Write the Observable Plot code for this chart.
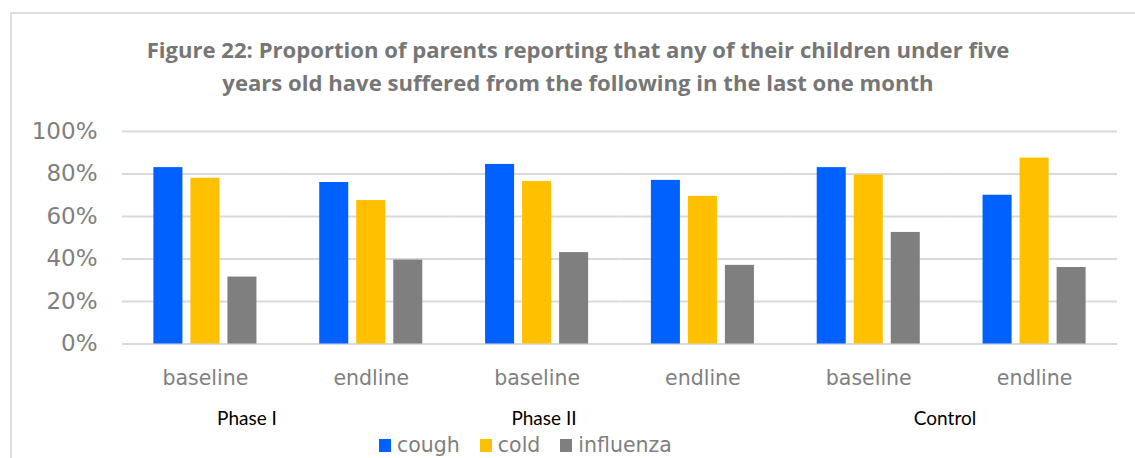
<!DOCTYPE html>
<html>
<head>
<meta charset="utf-8">
<script src="https://cdn.jsdelivr.net/npm/d3@7"></script>
<script src="https://cdn.jsdelivr.net/npm/@observablehq/plot@0.6"></script>
<style>
  html, body { margin: 0; padding: 0; background: #fff; }
  #wrap { position: relative; width: 1135px; height: 458px; overflow: hidden; background: #fff; }
  #frame { position: absolute; left: 10px; top: 12px; width: 1300px; height: 600px;
           border-top: 2px solid #dedede; border-left: 2px solid #dedede; }
  #title { position: absolute; left: 0; width: 1156px; top: 33px; text-align: center;
           font-family: "Open Sans", Lato, sans-serif; font-weight: 700; font-size: 22.1px;
           line-height: 33px; color: #767676; }
  #chart { position: absolute; left: 0; top: 118px; }
  .phase { position: absolute; top: 406px; font-family: Lato, "Open Sans", sans-serif;
           font-size: 19px; color: #000; transform: translateX(-50%); white-space: nowrap; }
  #legend { position: absolute; left: 379px; top: 432px; display: flex; align-items: center;
            font-family: "DejaVu Sans", sans-serif; font-size: 20.5px; color: #7f7f7f; line-height: 26px; }
  .item { display: flex; align-items: center; margin-right: 20px; }
  .sw { width: 12px; height: 13px; margin-right: 6px; }
  #chart g[aria-label^="y-axis"] text { font-size: 23px; }
  #chart g[aria-label^="fx-axis"] text { font-size: 20.5px; }
</style>
</head>
<body>
<div id="wrap">
  <div id="frame"></div>
  <div id="title"></div>
  <div id="chart"></div>
  <div id="phases"></div>
  <div id="legend"></div>
</div>
<script>
// ---- data ----
const titleLines = [
  "Figure 22: Proportion of parents reporting that any of their children under five",
  "years old have suffered from the following in the last one month"
];
const rounds = ["baseline", "endline", "baseline", "endline", "baseline", "endline"];
const phases = ["Phase I", "Phase I", "Phase II", "Phase II", "Control", "Control"];
const phaseNames = ["Phase I", "Phase II", "Control"];
const phaseLabelX = [247, 544, 945];
const series = ["cough", "cold", "influenza"];
const cough     = [0.83, 0.76, 0.845, 0.77, 0.83, 0.70];
const cold      = [0.78, 0.675, 0.765, 0.695, 0.795, 0.875];
const influenza = [0.315, 0.395, 0.43, 0.37, 0.525, 0.36];
const colors = ["#0061fe", "#ffc000", "#7f7f7f"];
const yTicks = [0, 0.2, 0.4, 0.6, 0.8, 1.0];

// ---- table ----
const values = [cough, cold, influenza];
const keys = rounds.map((r, i) => phases[i] + "|" + r);
const table = [];
keys.forEach((k, i) => series.forEach((s, j) => table.push({key: k, series: s, value: values[j][i]})));

// ---- title ----
document.getElementById("title").innerHTML = titleLines.map(t => `<div>${t}</div>`).join("");

// ---- chart ----
const chart = Plot.plot({
  width: 1135,
  height: 275,
  marginTop: 13,
  marginLeft: 122,
  marginRight: 18,
  marginBottom: 49.5,
  style: {fontFamily: "'DejaVu Sans', sans-serif", fontSize: "21px", color: "#7f7f7f", background: "transparent", overflow: "visible"},
  facet: {data: table, x: "key"},
  fx: {domain: keys, padding: 0, round: false, axis: "bottom", label: null, tickSize: 0, tickPadding: 26,
       tickFormat: k => k.split("|")[1]},
  x: {domain: series, paddingInner: 0.216, paddingOuter: 0.848, round: false, axis: null},
  y: {domain: [0, 1], ticks: yTicks, tickFormat: d => Math.round(d * 100) + "%", tickSize: 0, tickPadding: 25, label: null},
  color: {domain: series, range: colors},
  marks: [
    Plot.ruleY(yTicks, {stroke: "#d9d9d9", strokeWidth: 2}),
    Plot.barY(table, {x: "series", y: "value", fill: "series"})
  ]
});
document.getElementById("chart").appendChild(chart);

// ---- phase labels ----
document.getElementById("phases").innerHTML = phaseNames.map((p, i) =>
  `<div class="phase" style="left:${phaseLabelX[i]}px">${p}</div>`).join("");

// ---- legend ----
document.getElementById("legend").innerHTML = series.map((s, i) =>
  `<div class="item"><div class="sw" style="background:${colors[i]}"></div><span>${s}</span></div>`).join("");
</script>
</body>
</html>
